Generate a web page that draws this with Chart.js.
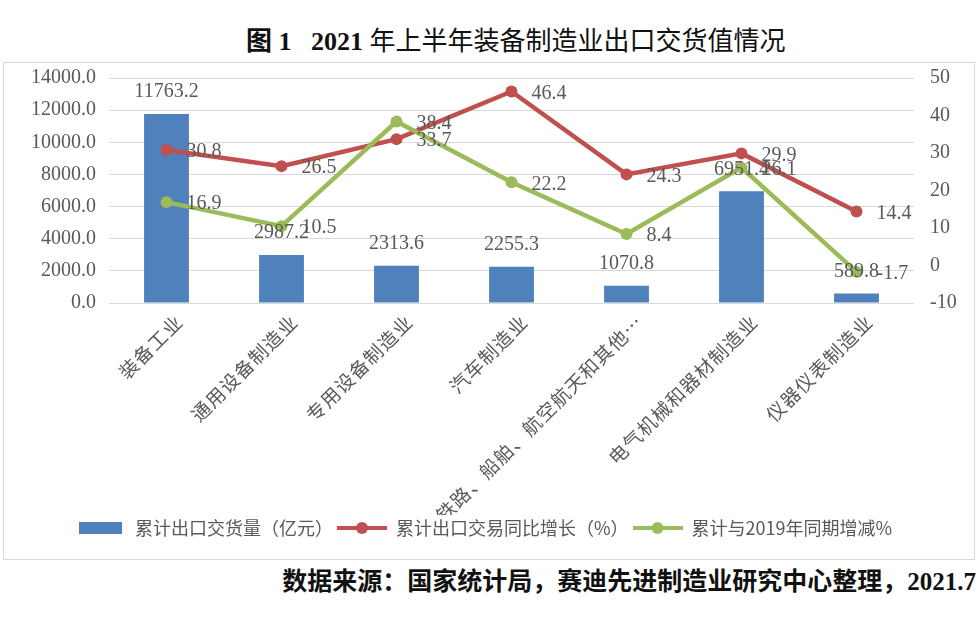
<!DOCTYPE html>
<html lang="zh-CN">
<head>
    <meta charset="utf-8">
    <title>2021年上半年装备制造业出口交货值情况</title>
    <script src="https://cdn.jsdelivr.net/npm/chart.js"></script>

    <style>
        body {
            margin: 0;
            width: 980px;
            height: 622px;
            position: relative;
            overflow: hidden;
            background: #fff;
            font-family: "Liberation Serif", "Noto Sans CJK SC", serif;
        }

        /* 标题 */
        #title {
            position: absolute;
            left: 246px;
            top: 26px;
            font-size: 26px;
            line-height: 32px;
            color: #111;
            white-space: nowrap;
        }
        #title b { font-weight: 700; }
        #title span { font-weight: 400; }

        /* 图表外框 */
        #chart-box {
            position: absolute;
            left: 3px;
            top: 62px;
            width: 970px;
            height: 496px;
            border: 1px solid #d9d9d9;
        }

        /* 数据来源 */
        #source {
            position: absolute;
            right: 4px;
            top: 566px;
            font-size: 25px;
            line-height: 32px;
            font-weight: 700;
            color: #111;
            white-space: nowrap;
        }
    </style>
</head>

<body>
    <div id="title"><b>图 1</b>&nbsp;&nbsp;&nbsp;<b>2021</b> <span>年上半年装备制造业出口交货值情况</span></div>
    <div id="chart-box"><canvas id="chart"></canvas></div>
    <div id="source">数据来源：国家统计局，赛迪先进制造业研究中心整理，2021.7</div>

    <script>
        // 行业分类
        const categories = [
            '装备工业',
            '通用设备制造业',
            '专用设备制造业',
            '汽车制造业',
            '铁路、船舶、航空航天和其他运输设备制造业',
            '电气机械和器材制造业',
            '仪器仪表制造业'
        ];

        // 累计出口交货量（亿元）
        const exportValue = [11763.2, 2987.2, 2313.6, 2255.3, 1070.8, 6951.4, 589.8];

        // 累计出口交易同比增长（%）
        const yoyGrowth = [30.8, 26.5, 33.7, 46.4, 24.3, 29.9, 14.4];

        // 累计与2019年同期增减%
        const vs2019 = [16.9, 10.5, 38.4, 22.2, 8.4, 26.1, -1.7];

        // 坐标轴刻度
        const leftTicks = { min: 0, max: 14000, step: 2000 };
        const rightTicks = { min: -10, max: 50, step: 10 };

        const BLUE = '#4f81bd';
        const RED = '#c0504d';
        const GREEN = '#9bbb59';
        const GREY = '#595959';
        const NUM_FONT = '"Liberation Serif", "Noto Sans CJK SC", serif';
        const CJK_FONT = '"Noto Sans CJK SC", sans-serif';

        // 图例符号
        function barSwatch(color) {
            const c = document.createElement('canvas');
            c.width = 43; c.height = 12;
            const g = c.getContext('2d');
            g.fillStyle = color;
            g.fillRect(0, 0, 43, 12);
            return c;
        }

        function lineSwatch(color) {
            const c = document.createElement('canvas');
            c.width = 50; c.height = 14;
            const g = c.getContext('2d');
            g.strokeStyle = color;
            g.lineWidth = 4;
            g.beginPath(); g.moveTo(0, 7); g.lineTo(50, 7); g.stroke();
            g.fillStyle = color;
            g.beginPath(); g.arc(25, 7, 6, 0, Math.PI * 2); g.fill();
            return c;
        }

        const swatches = [barSwatch(BLUE), lineSwatch(RED), lineSwatch(GREEN)];

        // 数据标签
        const valueLabels = {
            id: 'valueLabels',
            afterDatasetsDraw(chart) {
                const ctx = chart.ctx;
                ctx.save();
                ctx.font = '20px ' + NUM_FONT;
                ctx.fillStyle = GREY;
                ctx.textBaseline = 'middle';
                chart.data.datasets.forEach((ds, i) => {
                    const meta = chart.getDatasetMeta(i);
                    meta.data.forEach((el, j) => {
                        const text = ds.data[j].toFixed(1);
                        if (meta.type === 'bar') {
                            ctx.textAlign = 'center';
                            ctx.fillText(text, el.x, el.y - 22);
                        } else {
                            ctx.textAlign = 'left';
                            ctx.fillText(text, el.x + 20, el.y + 2);
                        }
                    });
                });
                ctx.restore();
            }
        };

        // 纵轴：固定宽度，去掉刻度文字带来的上下留白
        function fixYAxis(width) {
            return function (scale) {
                scale.width = width;
                scale.paddingTop = 0;
                scale.paddingBottom = 0;
            };
        }

        const chart = new Chart(document.getElementById('chart').getContext('2d'), {
            type: 'bar',
            data: {
                labels: categories,
                datasets: [
                    {
                        label: '累计出口交货量（亿元）',
                        data: exportValue,
                        backgroundColor: BLUE,
                        yAxisID: 'y',
                        categoryPercentage: 1,
                        barPercentage: 0.39,
                        order: 3
                    },
                    {
                        type: 'line',
                        label: '累计出口交易同比增长（%）',
                        data: yoyGrowth,
                        borderColor: RED,
                        backgroundColor: RED,
                        borderWidth: 4.5,
                        pointRadius: 6,
                        pointBorderWidth: 0,
                        pointBackgroundColor: RED,
                        yAxisID: 'y1',
                        order: 2
                    },
                    {
                        type: 'line',
                        label: '累计与2019年同期增减%',
                        data: vs2019,
                        borderColor: GREEN,
                        backgroundColor: GREEN,
                        borderWidth: 4.5,
                        pointRadius: 6,
                        pointBorderWidth: 0,
                        pointBackgroundColor: GREEN,
                        yAxisID: 'y1',
                        order: 1
                    }
                ]
            },
            options: {
                responsive: true,
                maintainAspectRatio: false,
                animation: false,
                layout: {
                    padding: { top: 15, left: 0, right: 10, bottom: 12 }
                },
                plugins: {
                    tooltip: { enabled: false },
                    legend: {
                        position: 'bottom',
                        labels: {
                            usePointStyle: true,
                            pointStyleWidth: 50,
                            boxHeight: 14,
                            padding: 4,
                            color: GREY,
                            font: { size: 18, family: CJK_FONT },
                            sort: (a, b) => a.datasetIndex - b.datasetIndex,
                            generateLabels(chart) {
                                const items = Chart.defaults.plugins.legend.labels.generateLabels(chart);
                                items.forEach(it => { it.pointStyle = swatches[it.datasetIndex]; });
                                return items;
                            }
                        }
                    }
                },
                scales: {
                    x: {
                        grid: { display: false, drawTicks: false },
                        border: { display: false },
                        afterFit(scale) { scale.height = 212; },
                        ticks: {
                            autoSkip: false,
                            minRotation: 45,
                            maxRotation: 45,
                            padding: 8,
                            labelOffset: 12,
                            color: GREY,
                            font: { size: 19, family: CJK_FONT },
                            callback: function (value) {
                                let l = this.getLabelForValue(value);
                                if (l.length > 14) l = l.slice(0, 13) + '…';
                                return l.split('').join('\u200A');
                            }
                        }
                    },
                    y: {
                        position: 'left',
                        min: leftTicks.min,
                        max: leftTicks.max,
                        afterFit: fixYAxis(105),
                        grid: { color: '#d9d9d9', lineWidth: 1, drawTicks: false },
                        border: { display: false },
                        ticks: {
                            stepSize: leftTicks.step,
                            padding: 13,
                            color: GREY,
                            font: { size: 20, family: NUM_FONT },
                            callback: v => v.toFixed(1)
                        }
                    },
                    y1: {
                        position: 'right',
                        min: rightTicks.min,
                        max: rightTicks.max,
                        afterFit: fixYAxis(50),
                        grid: { display: false, drawTicks: false },
                        border: { display: false },
                        ticks: {
                            stepSize: rightTicks.step,
                            padding: 16,
                            color: GREY,
                            font: { size: 20, family: NUM_FONT }
                        }
                    }
                }
            },
            plugins: [valueLabels]
        });
    </script>
</body>
</html>
